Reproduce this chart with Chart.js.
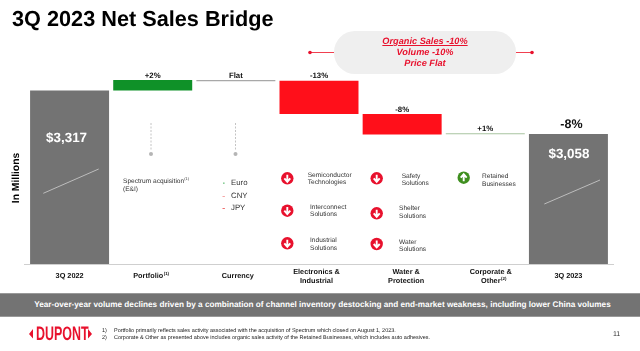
<!DOCTYPE html>
<html>
<head>
<meta charset="utf-8">
<title>3Q 2023 Net Sales Bridge</title>
<script src="https://cdn.jsdelivr.net/npm/chart.js@4/dist/chart.umd.min.js"></script>
<style>
  html, body { margin: 0; padding: 0; background: #fff; }
  body { width: 640px; height: 351px; overflow: hidden; position: relative; font-family: "Liberation Sans", Arial, sans-serif; color: #222; text-rendering: geometricPrecision; }
  canvas, svg { position: absolute; left: 0; top: 0; }
  .t { position: absolute; white-space: nowrap; transform: translateY(-50%); }
  sup { font-size: 60%; line-height: 0; }
  h1 { position: absolute; left: 12px; top: 6px; margin: 0; font-size: 21.7px; line-height: 26px; color: #000; }
  #pill { position: absolute; left: 334px; top: 31px; width: 182px; height: 43px; border-radius: 21px; background: #efefef; color: #e8112d; font: italic bold 9.2px/11px "Liberation Sans", Arial, sans-serif; text-align: center; padding-top: 5px; box-sizing: border-box; }
  #band { position: absolute; left: 0; top: 293px; width: 640px; height: 24px; background: #737373; border-top: 1px solid #999; border-bottom: 1px solid #999; box-sizing: border-box; color: #fff; font: bold 8.2px/22px "Liberation Sans", Arial, sans-serif; text-align: center; padding-left: 5px; }
  #logo { position: absolute; left: 36px; top: 323px; color: #e8112d; font: bold 19.5px/22px "Liberation Sans", Arial, sans-serif; transform-origin: left top; transform: scaleX(.64); }
</style>
</head>
<body>
<canvas id="bridge" width="640" height="351"></canvas>
<svg id="marks" width="640" height="351"></svg>
<h1>3Q 2023 Net Sales Bridge</h1>
<div id="pill"><u>Organic Sales -10%</u><br>Volume -10%<br>Price Flat</div>
<div id="band">Year-over-year volume declines driven by a combination of channel inventory destocking and end-market weakness, including lower China volumes</div>
<div id="logo">DUPONT</div>
<div id="notes"></div>
<script>
// ── Chart data ─────────────────────────────────
const categories = [
  ['3Q 2022'], ['Portfolio'], ['Currency'], ['Electronics &', 'Industrial'],
  ['Water &', 'Protection'], ['Corporate &', 'Other'], ['3Q 2023']
];
const footnoteMarks = ['', '(1)', '', '', '', '(2)', ''];
const barStart = [2284, 3317, 3372, 3374, 3177, 3056, 2284];
const barEnd   = [3317, 3379, 3379, 3177, 3055, 3062, 3058];
const barColors = ['#737373', '#0f9128', '#a8a8a8', '#ff0f1a', '#ff0f1a', '#a9c4a0', '#737373'];
const changeLabels = ['', '+2%', 'Flat', '-13%', '-8%', '+1%', '-8%'];

const axisMin = 2284;
const axisMax = 3498;

// ── Labels drawn on top of the bars ────────────
// the slide's category labels are not quite centred under their bars
const labelShift = [0, -4.5, 2, -2.5, 4, 5.5, 0];

const bridgeLabels = {
  id: 'bridgeLabels',
  afterDatasetsDraw(chart) {
    const { ctx, chartArea, scales } = chart;
    const bars = chart.getDatasetMeta(0).data;
    ctx.save();
    ctx.textRendering = 'geometricPrecision';
    ctx.textAlign = 'center';
    ctx.textBaseline = 'middle';

    // baseline
    ctx.strokeStyle = '#cfcfcf';
    ctx.lineWidth = 1;
    ctx.beginPath();
    ctx.moveTo(chartArea.left - 4, chartArea.bottom + .5);
    ctx.lineTo(chartArea.right + 4, chartArea.bottom + .5);
    ctx.stroke();

    bars.forEach((bar, i) => {
      const top = Math.min(bar.y, bar.base);
      ctx.fillStyle = '#111';
      ctx.font = i === 6 ? 'bold 12.5px "Liberation Sans"' : 'bold 7.8px "Liberation Sans"';
      if (changeLabels[i]) ctx.fillText(changeLabels[i], bar.x + (i === 6 ? 3 : 0), top - (i === 6 ? 9 : 4.5));

      const lines = categories[i];
      const x = scales.x.getPixelForValue(i) + labelShift[i];
      lines.forEach((line, n) => {
        const y = chartArea.bottom + 12 + (n - (lines.length - 1) / 2) * 9;
        ctx.font = 'bold 7.3px "Liberation Sans"';
        ctx.fillText(line, x, y);
        // superscript goes on the last line of the label
        if (footnoteMarks[i] && n === lines.length - 1) {
          const half = ctx.measureText(line).width / 2;
          ctx.font = 'bold 4.4px "Liberation Sans"';
          ctx.textAlign = 'left';
          ctx.fillText(footnoteMarks[i], x + half + .5, y - 2);
          ctx.textAlign = 'center';
        }
      });
    });

    // opening and closing totals
    ctx.fillStyle = '#fff';
    ctx.font = 'bold 13.4px "Liberation Sans"';
    ctx.fillText('$' + barEnd[0].toLocaleString('en-US'), bars[0].x - 3, bars[0].y + 48);
    ctx.fillText('$' + barEnd[6].toLocaleString('en-US'), bars[6].x + .5, bars[6].y + 20.5);
    ctx.restore();
  }
};

new Chart(document.getElementById('bridge').getContext('2d'), {
  type: 'bar',
  data: {
    labels: categories.map(c => c.join(' ')),
    datasets: [{
      data: barStart.map((s, i) => [s, barEnd[i]]),
      backgroundColor: barColors,
      borderSkipped: false,
      borderWidth: 0,
      categoryPercentage: 1,
      barPercentage: 0.95,
    }],
  },
  options: {
    responsive: false,
    animation: false,
    layout: { padding: { left: 28, right: 30, top: 60, bottom: 87 } },
    plugins: { legend: { display: false }, tooltip: { enabled: false } },
    scales: {
      x: { display: false },
      y: { display: false, min: axisMin, max: axisMax },
    },
  },
  plugins: [bridgeLabels],
});

// ── Slide text ─────────────────────────────────
const notes = document.getElementById('notes');
function note(html, x, y, css) {
  const el = document.createElement('div');
  el.className = 't';
  el.innerHTML = html;
  el.style.cssText = `left:${x}px;top:${y}px;${css || ''}`;
  notes.appendChild(el);
}

const small = 'font-size:6.6px;line-height:7.6px;color:#333;';
note('In Millions', 15.5, 177.5, 'font-weight:bold;font-size:10.3px;color:#000;transform:translate(-50%,-50%) rotate(-90deg);');
note('Spectrum acquisition<sup>(1)</sup><br>(E&amp;I)', 123, 186, small);
note('Euro', 231, 182, 'font-size:7.8px;color:#333;');
note('CNY', 231, 195, 'font-size:7.8px;color:#333;');
note('JPY', 231, 207, 'font-size:7.8px;color:#333;');
note('Semiconductor<br>Technologies', 307.7, 179.7, small);
note('Interconnect<br>Solutions', 310, 211.5, small);
note('Industrial<br>Solutions', 310, 245, small);
note('Safety<br>Solutions', 401.7, 180.5, small);
note('Shelter<br>Solutions', 399, 213, small);
note('Water<br>Solutions', 399, 246.5, small);
note('Retained<br>Businesses', 482, 181, small);

const foot = 'font-size:5.5px;color:#222;';
note('1)', 102, 331, foot);
note('2)', 102, 338, foot);
note('Portfolio primarily reflects sales activity associated with the acquisition of Spectrum which closed on August 1, 2023.', 114, 331, foot);
note('Corporate &amp; Other as presented above includes organic sales activity of the Retained Businesses, which includes auto adhesives.', 114, 338, foot);
note('11', 613, 334, 'font-size:7px;color:#333;');

// ── Decorations: connectors, dots, arrows ──────
const svg = document.getElementById('marks');
let marks = '';
function arrow(cx, cy, color, up) {
  const d = up ? -1 : 1;
  marks += `<circle cx="${cx}" cy="${cy}" r="6.2" fill="${color}"/>`
        + `<path d="M${cx} ${cy - 3.6 * d}V${cy + 3 * d}M${cx - 3} ${cy}L${cx} ${cy + 3.4 * d}L${cx + 3} ${cy}" stroke="#fff" stroke-width="1.9" fill="none"/>`;
}
[[287.3, 178.3], [287.3, 210.7], [287.3, 243.3], [376.7, 178.3], [376.7, 213.3], [376.7, 244]]
  .forEach(p => arrow(p[0], p[1], '#e8112d', false));
arrow(463.7, 177.7, '#3f8f1f', true);

[151, 235.5].forEach(x => {
  marks += `<line x1="${x}" y1="123" x2="${x}" y2="151" stroke="#c4c4c4" stroke-dasharray="2 1.5"/>`
        + `<circle cx="${x}" cy="154" r="2" fill="#b5b5b5"/>`;
});
[[43.3, 193.3, 98.7, 169], [544.3, 204, 600, 180]].forEach(l => {
  marks += `<line x1="${l[0]}" y1="${l[1]}" x2="${l[2]}" y2="${l[3]}" stroke="#bdbdbd"/>`;
});
marks += `<line x1="310" y1="52.5" x2="334" y2="52.5" stroke="#f04050"/><circle cx="310" cy="52.5" r="1.8" fill="#e8112d"/>`
      + `<line x1="516" y1="52.5" x2="532" y2="52.5" stroke="#f04050"/><circle cx="532" cy="52.5" r="1.8" fill="#e8112d"/>`;
marks += `<rect x="223" y="182.4" width="1.6" height="1.6" fill="#8ccf9a"/><rect x="222.5" y="196" width="2.4" height="1" fill="#f5a5a5"/><rect x="222.5" y="208" width="2.4" height="1" fill="#f07070"/>`;
marks += `<path d="M33 329V338.5L29 334ZM88 329V338.5L92 334Z" fill="#e8112d"/>`;
svg.innerHTML = marks;
</script>
</body>
</html>
